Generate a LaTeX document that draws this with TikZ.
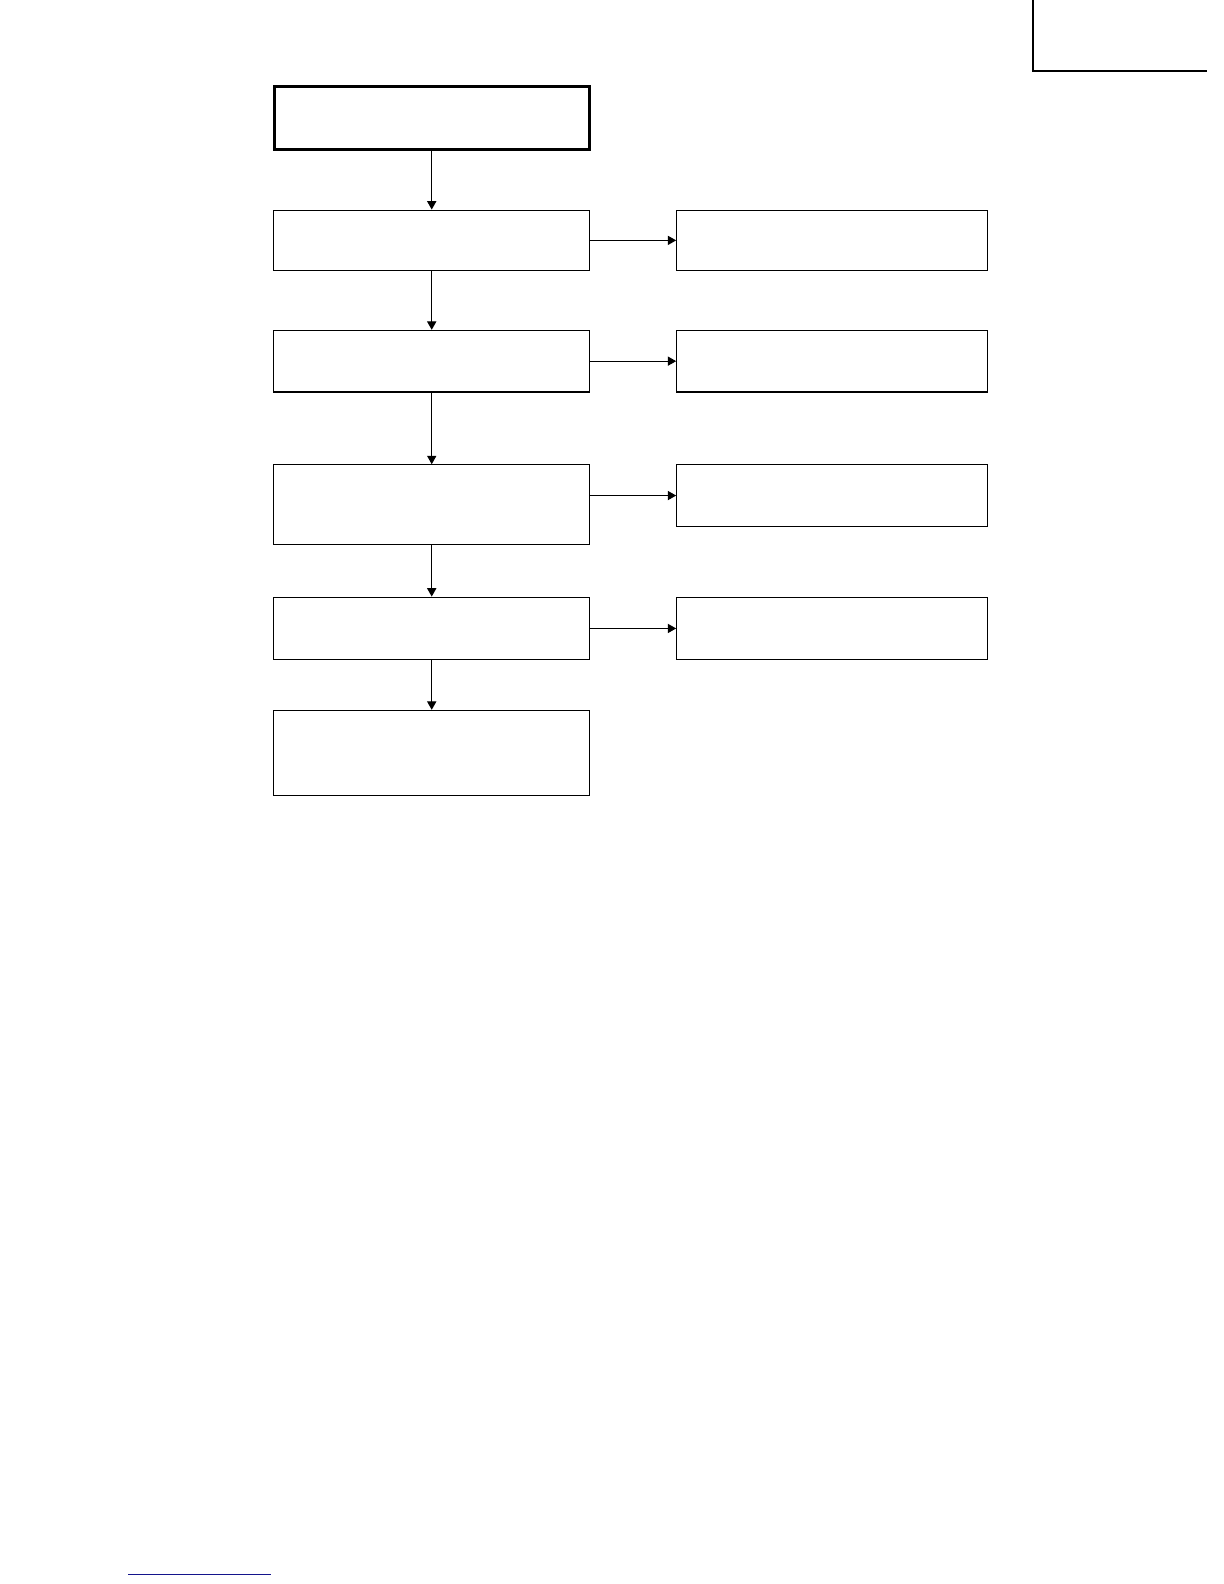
\documentclass[tikz,border=0pt]{standalone}
\usepackage{xcolor}
\usetikzlibrary{arrows.meta,positioning}
\definecolor{linkblue}{RGB}{20,20,140}
\newlength\px
\setlength\px{0.50495bp}
\begin{document}
\begin{tikzpicture}[
    x=\px, y=-\px,
    box/.style={rectangle, draw=black, line width=0.55bp, minimum width=313\px, inner sep=0pt},
    startbox/.style={box, line width=1.5bp, minimum width=312\px, minimum height=62\px},
    side/.style={box, minimum width=308\px},
    arrow/.style={-{Triangle[length=4.2bp,width=4.6bp]}, line width=0.55bp}
]
    \useasboundingbox (0,0) rectangle (1212,1568.5);

    % Main column
    \node[startbox] (start) at (427.5,117) {};
    \node[box, minimum height=60\px, below=58\px of start] (stepA) {};
    \node[box, minimum height=61\px, below=58\px of stepA] (stepB) {};
    \node[box, minimum height=79\px, below=71\px of stepB] (stepC) {};
    \node[box, minimum height=62\px, below=51\px of stepC] (stepD) {};
    \node[box, minimum height=84\px, below=49\px of stepD] (stepE) {};

    % Side column
    \node[side, minimum height=60\px, right=85\px of stepA] (sideA) {};
    \node[side, minimum height=61\px, right=85\px of stepB] (sideB) {};
    \node[side, minimum height=61\px, right=85\px of stepC.north east, anchor=north west] (sideC) {};
    \node[side, minimum height=62\px, right=85\px of stepD] (sideD) {};

    % Arrows
    \draw[arrow] (start) -- (stepA);
    \draw[arrow] (stepA) -- (stepB);
    \draw[arrow] (stepB) -- (stepC);
    \draw[arrow] (stepC) -- (stepD);
    \draw[arrow] (stepD) -- (stepE);
    \draw[arrow] (stepA) -- (sideA);
    \draw[arrow] (stepB) -- (sideB);
    \draw[arrow] (sideC.west -| stepC.east) -- (sideC.west);
    \draw[arrow] (stepD) -- (sideD);

    % Page marks
    \draw[line width=1bp] (1023,0) -- (1023,70) -- (1195,70);
    \draw[linkblue, line width=0.6bp] (127,1559) -- (268,1559);
\end{tikzpicture}
\end{document}
